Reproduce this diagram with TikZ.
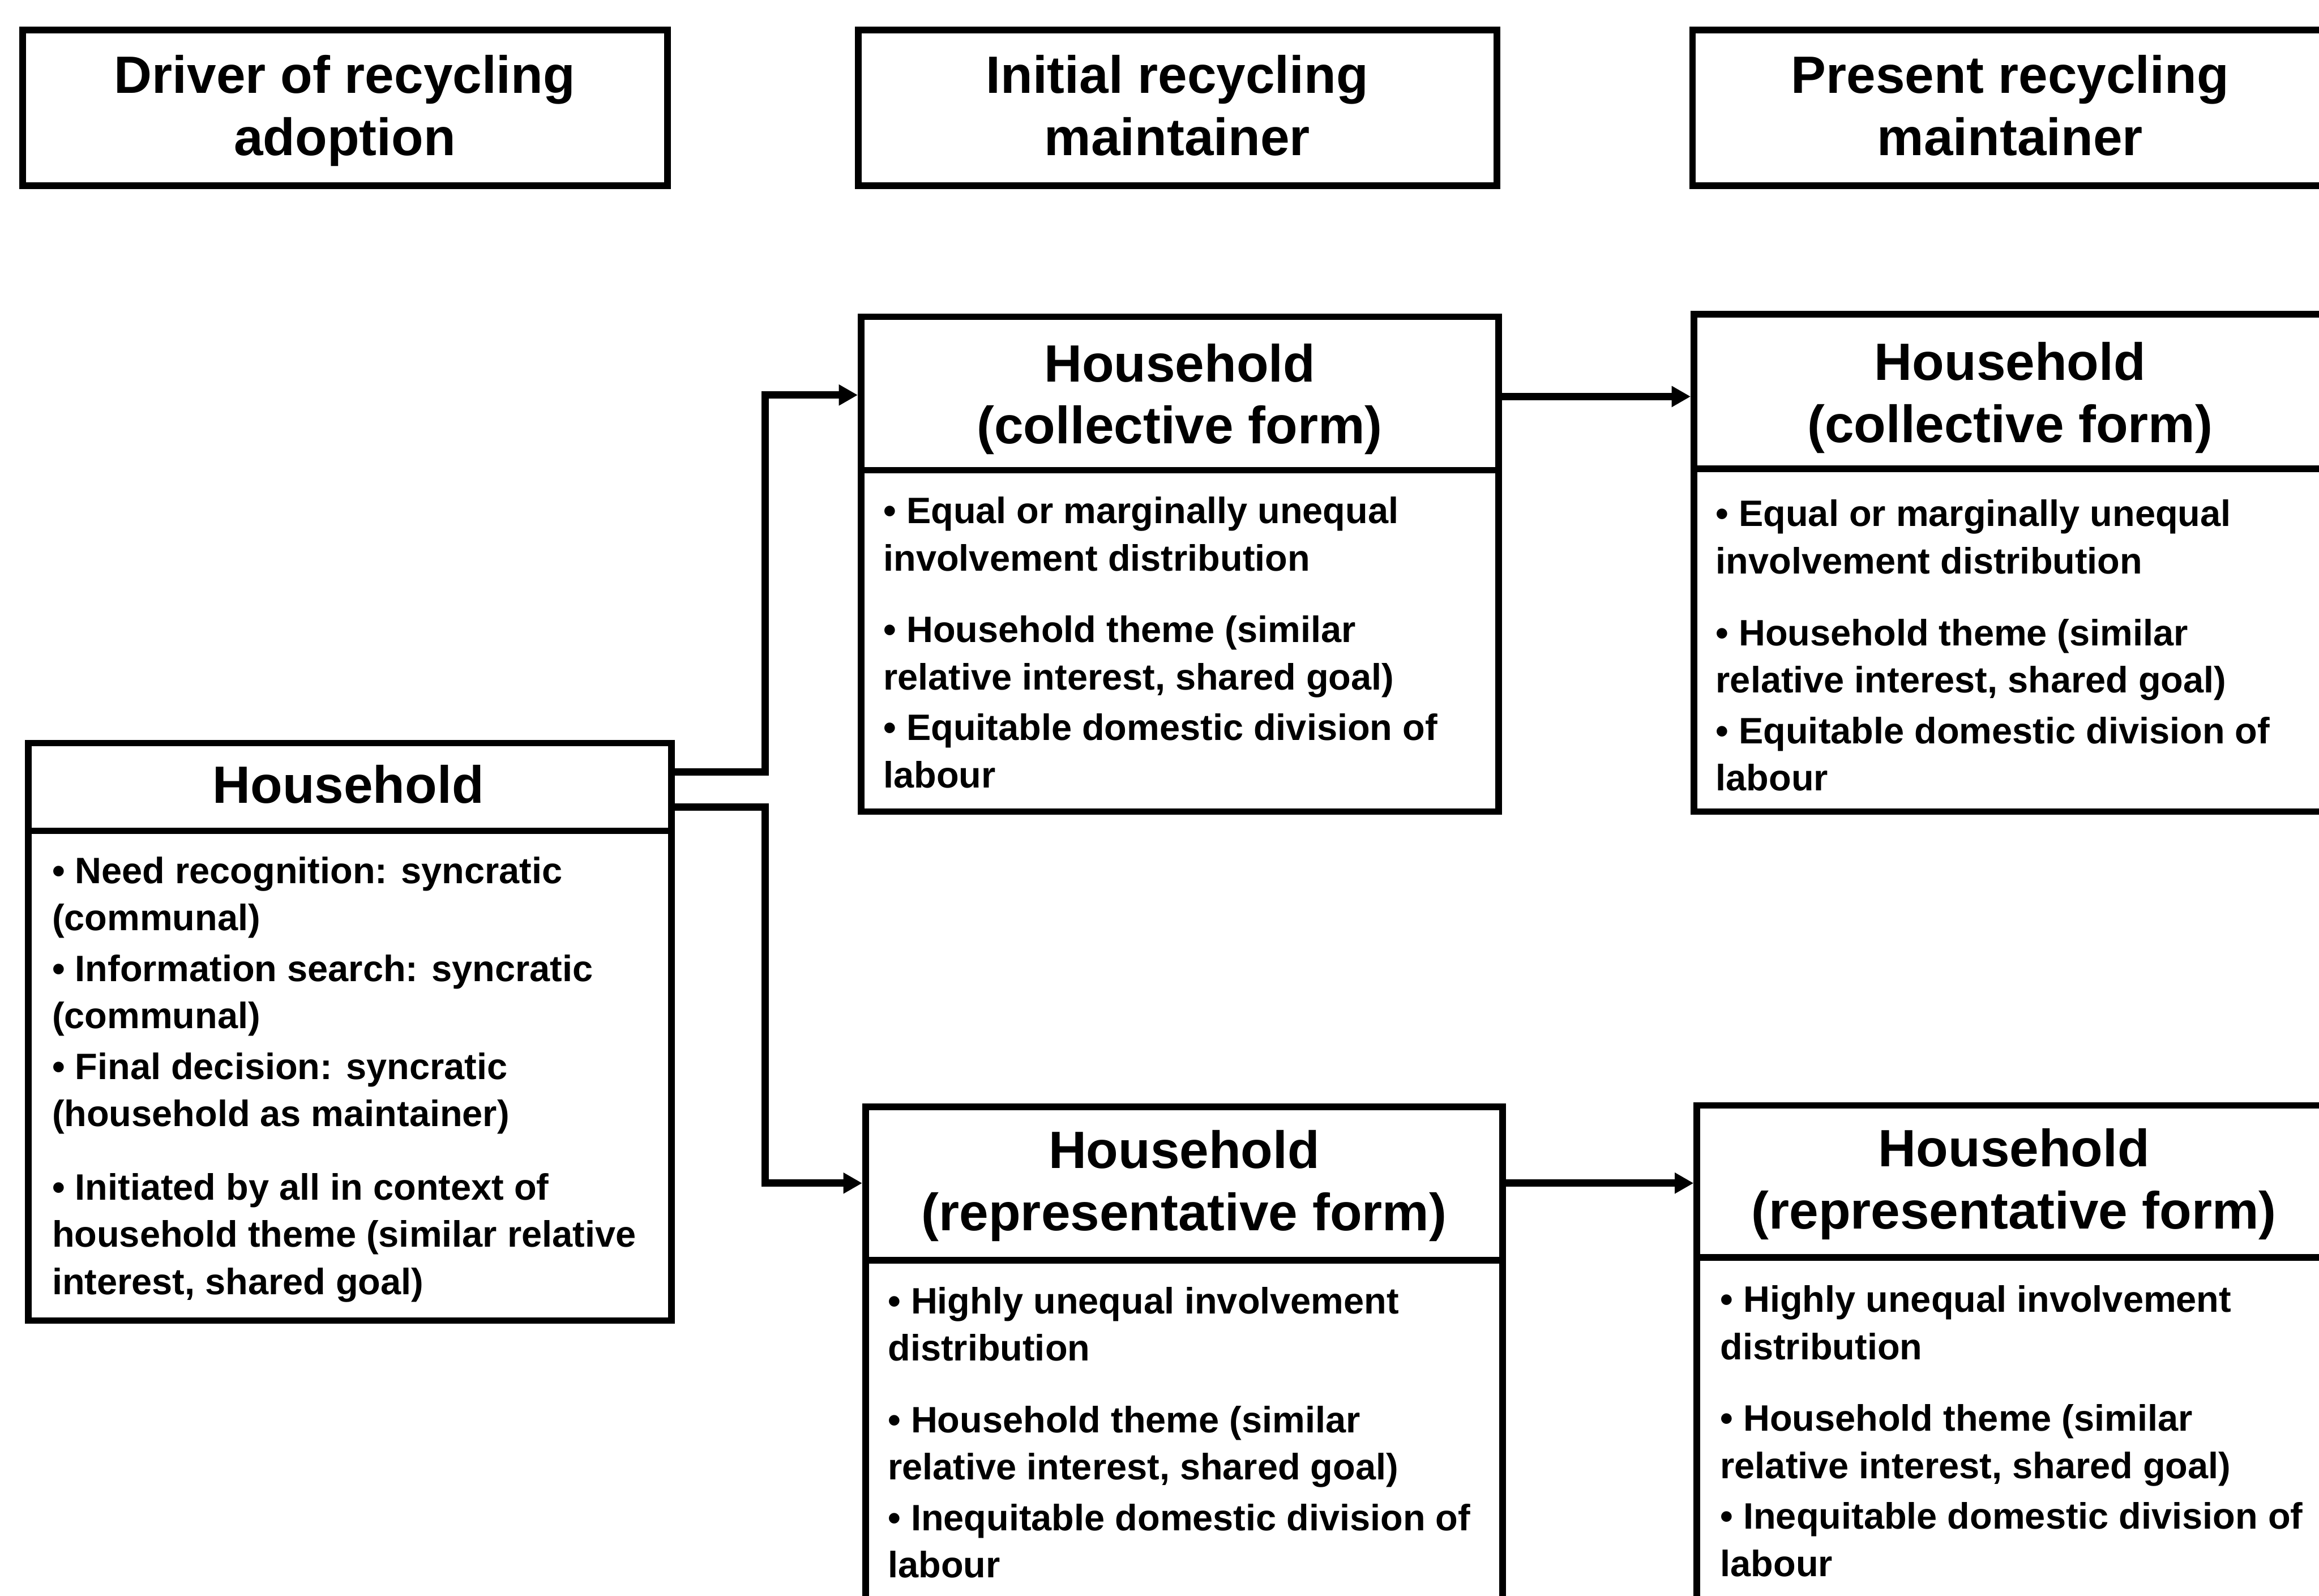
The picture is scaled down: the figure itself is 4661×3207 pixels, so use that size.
\documentclass[tikz,border=0pt]{standalone}
\usepackage{fontspec}
\setmainfont{Liberation Sans}
\usetikzlibrary{arrows.meta,calc}
\begin{document}
\begin{tikzpicture}[x=0.01cm,y=-0.01cm,
  frame/.style={draw=black,line width=3.8pt,inner sep=0pt,anchor=north west},
  divider/.style={draw=black,line width=3.8pt},
  headtext/.style={font=\bfseries\fontsize{30}{35.5}\selectfont,align=center,inner sep=0pt,anchor=north},
  bodytext/.style={font=\bfseries\fontsize{21}{27}\selectfont,align=left,inner sep=0pt,anchor=north west},
  conn/.style={draw=black,line width=4.2pt,line join=miter,-{Triangle[length=0.38cm,width=0.40cm]}}]

% page area
\useasboundingbox (0,0) rectangle (4661,3207);
\clip (0,0) rectangle (4661,3207);
\fill[white] (0,0) rectangle (4661,3207);

% column headings
\node[frame,minimum width=12.95cm,minimum height=3.12cm] (h1) at (39,54) {};
\node[frame,minimum width=12.83cm,minimum height=3.12cm] (h2) at (1718,54) {};
\node[frame,minimum width=12.83cm,minimum height=3.12cm] (h3) at (3395,54) {};
\node[headtext] (h1t) at (693,110) {Driver of recycling\\adoption};
\node[headtext] (h2t) at (2366,110) {Initial recycling\\maintainer};
\node[headtext] (h3t) at (4040,110) {Present recycling\\maintainer};

% driver box
\node[frame,minimum width=12.92cm,minimum height=11.60cm] (L) at (50,1487) {};
\draw[divider] ($(L.north west)+(0,183)$) -- ($(L.north east)+(0,183)$);
\node[headtext] (Lt) at (700,1537) {Household};
\node[bodytext] (Lb) at (104,1721) {%
  • Need recognition: syncratic\\
  (communal)\\[2pt]
  • Information search: syncratic\\
  (communal)\\[2pt]
  • Final decision: syncratic\\
  (household as maintainer)\\[15pt]
  • Initiated by all in context of\\
  household theme (similar relative\\
  interest, shared goal)};

% initial maintainer, collective form
\node[frame,minimum width=12.81cm,minimum height=9.94cm] (mt) at (1724,630) {};
\draw[divider] ($(mt.north west)+(0,315)$) -- ($(mt.north east)+(0,315)$);
\node[headtext] (mtt) at (2371,690) {Household\\(collective form)};
\node[bodytext] (mtb) at (1775,998) {%
  • Equal or marginally unequal\\
  involvement distribution\\[14pt]
  • Household theme (similar\\
  relative interest, shared goal)\\[2pt]
  • Equitable domestic division of\\
  labour};

% present maintainer, collective form
\node[frame,minimum width=12.96cm,minimum height=9.99cm] (rt) at (3398,625) {};
\draw[divider] ($(rt.north west)+(0,317)$) -- ($(rt.north east)+(0,317)$);
\node[headtext] (rtt) at (4040,687) {Household\\(collective form)};
\node[bodytext] (rtb) at (3448,1004) {%
  • Equal or marginally unequal\\
  involvement distribution\\[14pt]
  • Household theme (similar\\
  relative interest, shared goal)\\[2pt]
  • Equitable domestic division of\\
  labour};

% initial maintainer, representative form
\node[frame,minimum width=12.80cm,minimum height=12.00cm] (mb) at (1733,2218) {};
\draw[divider] ($(mb.north west)+(0,315)$) -- ($(mb.north east)+(0,315)$);
\node[headtext] (mbt) at (2380,2271) {Household\\(representative form)};
\node[bodytext] (mbb) at (1784,2586) {%
  • Highly unequal involvement\\
  distribution\\[14pt]
  • Household theme (similar\\
  relative interest, shared goal)\\[2pt]
  • Inequitable domestic division of\\
  labour};

% present maintainer, representative form
\node[frame,minimum width=12.96cm,minimum height=12.00cm] (rb) at (3404,2215) {};
\draw[divider] ($(rb.north west)+(0,312)$) -- ($(rb.north east)+(0,312)$);
\node[headtext] (rbt) at (4048,2268) {Household\\(representative form)};
\node[bodytext] (rbb) at (3457,2583) {%
  • Highly unequal involvement\\
  distribution\\[14pt]
  • Household theme (similar\\
  relative interest, shared goal)\\[2pt]
  • Inequitable domestic division of\\
  labour};

% connectors
\coordinate (jx) at (1538,0);
\coordinate (s1) at ($(L.north east)+(0,65)$);
\coordinate (s2) at ($(L.north east)+(0,135)$);
\coordinate (t1) at ($(mt.north west)+(0,164)$);
\coordinate (t2) at ($(mb.north west)+(0,160)$);
\draw[conn] (s1) -- (s1 -| jx) |- (t1);
\draw[conn] (s2) -- (s2 -| jx) |- (t2);
\coordinate (a1) at ($(mt.north east)+(0,167)$);
\coordinate (a2) at ($(mb.north east)+(0,160)$);
\draw[conn] (a1) -- (a1 -| rt.west);
\draw[conn] (a2) -- (a2 -| rb.west);
\end{tikzpicture}
\end{document}
